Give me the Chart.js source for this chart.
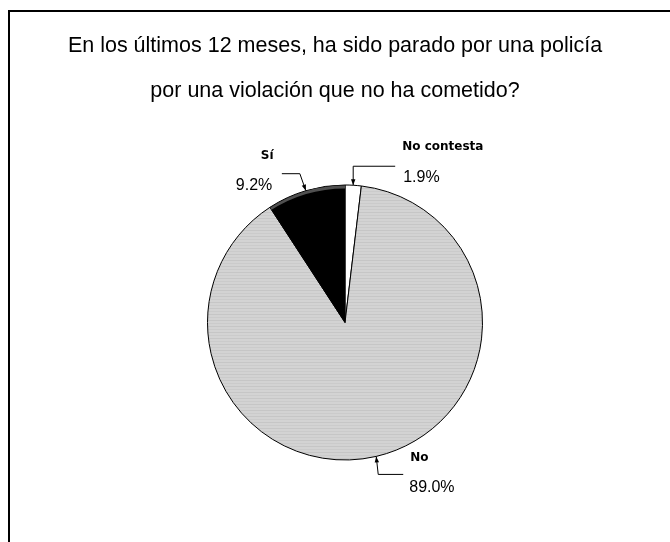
<!DOCTYPE html>
<html>
<head>
<meta charset="utf-8">
<script src="https://cdn.jsdelivr.net/npm/chart.js@4/dist/chart.umd.min.js"></script>
<style>
  html, body { margin: 0; padding: 0; background: #fff; }
  #wrap { width: 670px; height: 542px; }
</style>
</head>
<body>
<div id="wrap"><canvas id="pieChart" width="670" height="542"></canvas></div>
<script>
/* ==========================================
   饼图：过去 12 个月被警察拦下的情况
   ========================================== */

// ---------- 数据 ----------
const titleLines = [
  'En los últimos 12 meses, ha sido parado por una policía',
  'por una violación que no ha cometido?',
];
const categories = ['No contesta', 'No', 'Sí'];
const percentages = [1.9, 89.0, 9.2];

// ---------- 样式 ----------
const FONT = '"Liberation Sans", Arial, sans-serif';
const LABEL_BOLD = 'bold 12px "DejaVu Sans", sans-serif';

// 每个扇区标签的相对位置（相对于扇区外弧中点）
const labelLayout = [
  { leader: [[0, -19], [42, -19]], name: [49, -38], value: [50, -8] },    // No contesta
  { leader: [[2, 18], [27, 18]],   name: [34, 1],   value: [33, 31] },    // No
  { leader: [[-6, -17], [-24, -17]], name: [-45, -35], value: [-70, -5] }, // Sí
];

/** 灰色横条纹填充 */
function makeStripePattern(ctx) {
  const c = document.createElement('canvas');
  c.width = 8; c.height = 6;
  const g = c.getContext('2d');
  g.fillStyle = '#d3d3d3'; g.fillRect(0, 0, 8, 6);
  g.fillStyle = '#c6c6c6'; g.fillRect(0, 2, 8, 1);
  g.fillStyle = '#cbcbcb'; g.fillRect(0, 5, 8, 1);
  return ctx.createPattern(c, 'repeat');
}

/** 外弧中点 */
function outerMid(arc) {
  const p = arc.getProps(['x', 'y', 'startAngle', 'endAngle', 'outerRadius'], true);
  const mid = (p.startAngle + p.endAngle) / 2;
  return { x: p.x + Math.cos(mid) * p.outerRadius, y: p.y + Math.sin(mid) * p.outerRadius };
}

function drawArrowHead(ctx, fx, fy, tx, ty) {
  const ang = Math.atan2(ty - fy, tx - fx);
  const len = 6, half = 2.2;
  ctx.beginPath();
  ctx.moveTo(tx, ty);
  ctx.lineTo(tx - len * Math.cos(ang) + half * Math.sin(ang), ty - len * Math.sin(ang) - half * Math.cos(ang));
  ctx.lineTo(tx - len * Math.cos(ang) - half * Math.sin(ang), ty - len * Math.sin(ang) + half * Math.cos(ang));
  ctx.closePath();
  ctx.fill();
}

// ---------- 自定义插件：外框、标题、引线标签 ----------
const decorPlugin = {
  id: 'decor',
  afterDatasetsDraw(chart) {
    const ctx = chart.ctx;
    const meta = chart.getDatasetMeta(0);

    // Sí 扇区外弧的深灰阴影
    const si = meta.data[2].getProps(['x', 'y', 'startAngle', 'endAngle', 'outerRadius'], true);
    ctx.save();
    ctx.beginPath();
    ctx.moveTo(si.x, si.y);
    ctx.arc(si.x, si.y, si.outerRadius - 0.5, si.startAngle, si.endAngle);
    ctx.closePath();
    ctx.clip();
    ctx.beginPath();
    ctx.arc(si.x, si.y, si.outerRadius, si.startAngle, si.endAngle);
    ctx.arc(si.x, si.y + 3.5, si.outerRadius, si.endAngle, si.startAngle, true);
    ctx.closePath();
    ctx.fillStyle = '#505050';
    ctx.fill();
    ctx.restore();

    // 引线与标签
    ctx.save();
    ctx.strokeStyle = '#000';
    ctx.fillStyle = '#000';
    ctx.lineWidth = 1;
    meta.data.forEach(function (arc, i) {
      const a = outerMid(arc);
      const lay = labelLayout[i];
      ctx.beginPath();
      ctx.moveTo(a.x, a.y);
      lay.leader.forEach(function (pt) { ctx.lineTo(a.x + pt[0], a.y + pt[1]); });
      ctx.stroke();
      drawArrowHead(ctx, a.x + lay.leader[0][0], a.y + lay.leader[0][1], a.x, a.y);

      ctx.textAlign = 'left';
      ctx.textBaseline = 'middle';
      ctx.font = LABEL_BOLD;
      ctx.fillText(categories[i], a.x + lay.name[0], a.y + lay.name[1]);
      ctx.font = '16px ' + FONT;
      ctx.fillText(percentages[i].toFixed(1) + '%', a.x + lay.value[0], a.y + lay.value[1]);
    });
    ctx.restore();
  },
  afterDraw(chart) {
    const ctx = chart.ctx;
    ctx.save();
    // 外框（上、左）
    ctx.strokeStyle = '#000';
    ctx.lineWidth = 2;
    ctx.beginPath();
    ctx.moveTo(9, 542);
    ctx.lineTo(9, 11);
    ctx.lineTo(670, 11);
    ctx.stroke();

    // 标题
    ctx.fillStyle = '#000';
    ctx.font = '21.5px ' + FONT;
    ctx.textAlign = 'center';
    ctx.textBaseline = 'middle';
    ctx.fillText(titleLines[0], 335, 46);
    ctx.fillText(titleLines[1], 335, 91);
    ctx.restore();
  },
};

// ---------- 图表初始化 ----------
const canvas = document.getElementById('pieChart');
const ctx2d = canvas.getContext('2d');

new Chart(ctx2d, {
  type: 'pie',
  data: {
    labels: categories,
    datasets: [{
      data: percentages,
      backgroundColor: ['#ffffff', makeStripePattern(ctx2d), '#000000'],
      borderColor: '#000',
      borderWidth: 1,
      hoverOffset: 0,
    }],
  },
  options: {
    responsive: false,
    animation: false,
    events: [],
    layout: {
      padding: { left: 207, right: 187, top: 184, bottom: 81 },
    },
    plugins: {
      legend: { display: false },
      tooltip: { enabled: false },
      title: { display: false },
    },
  },
  plugins: [decorPlugin],
});
</script>
</body>
</html>
